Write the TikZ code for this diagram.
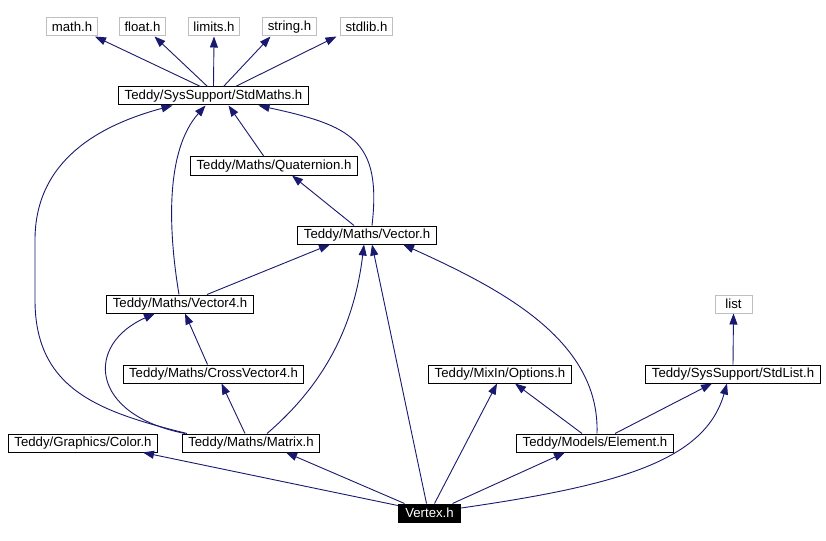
\documentclass[tikz,border=0pt]{standalone}
\usepackage{fontspec}
\setmainfont{Liberation Sans}
\usetikzlibrary{arrows.meta}
\definecolor{edgeblue}{RGB}{25,25,112}
\definecolor{sysgray}{RGB}{191,191,191}

\begin{document}
\begin{tikzpicture}[
    x=1pt, y=-1pt,
    >={Triangle[length=11pt,width=8pt]},
    font=\fontsize{13.2}{15}\selectfont,
    file/.style={
        draw,
        fill=white,
        line width=1pt,
        minimum height=18pt,
        inner xsep=6pt,
        inner ysep=0pt
    },
    sysfile/.style={file, draw=sysgray, inner xsep=5pt},
    mainfile/.style={file, fill=black, text=white, draw=black, inner xsep=7pt},
    dep/.style={draw=edgeblue, line width=0.9pt}
]
\useasboundingbox[fill=white] (0,0) rectangle (826,540);

% en-têtes système
\node[sysfile] (mathh)   at (72,27)    {math.h};
\node[sysfile] (floath)  at (142.5,27) {float.h};
\node[sysfile] (limitsh) at (214,27)   {limits.h};
\node[sysfile] (stringh) at (289.5,27) {string.h};
\node[sysfile] (stdlibh) at (366.5,27) {stdlib.h};
\node[sysfile, minimum width=37pt] (listh) at (733.5,304) {list};

% fichiers du projet
\node[file] (sm)      at (213.5,96) {Teddy/SysSupport/StdMaths.h};
\node[file] (quat)    at (274,166)  {Teddy/Maths/Quaternion.h};
\node[file] (vec)     at (367,235)  {Teddy/Maths/Vector.h};
\node[file] (vec4)    at (180,304)  {Teddy/Maths/Vector4.h};
\node[file] (cross4)  at (213.5,374) {Teddy/Maths/CrossVector4.h};
\node[file] (options) at (500,374)  {Teddy/MixIn/Options.h};
\node[file] (stdlist) at (733,374)  {Teddy/SysSupport/StdList.h};
\node[file] (color)   at (83,443)   {Teddy/Graphics/Color.h};
\node[file] (matrix)  at (251,443)  {Teddy/Maths/Matrix.h};
\node[file] (element) at (595,443)  {Teddy/Models/Element.h};
\node[mainfile] (vertex) at (429.5,513) {Vertex.h};

% StdMaths.h
\draw[->, dep] ([xshift=-13pt]sm.north) -- ([xshift=23pt]mathh.south);
\draw[->, dep] ([xshift=-6pt]sm.north)  -- ([xshift=12pt]floath.south);
\draw[->, dep] (sm.north) -- (limitsh.south);
\draw[->, dep] ([xshift=10pt]sm.north)  -- ([xshift=-19pt]stringh.south);
\draw[->, dep] ([xshift=22pt]sm.north)  -- ([xshift=-30pt]stdlibh.south);

% Quaternion.h, Vector.h
\draw[->, dep] ([xshift=-10pt]quat.north) -- ([xshift=15pt]sm.south);
\draw[->, dep] ([xshift=-13pt]vec.north)  -- ([xshift=18pt]quat.south);
\draw[->, dep] ([xshift=5pt]vec.north) .. controls +(10,-86) and +(92,20) .. ([xshift=45pt]sm.south);

% Vector4.h, CrossVector4.h
\draw[->, dep] ([xshift=-1pt]vec4.north) .. controls +(-11,-66) and +(-40,45) .. ([xshift=-8pt]sm.south);
\draw[->, dep] ([xshift=27pt]vec4.north) -- ([xshift=-37pt]vec.south);
\draw[->, dep] ([xshift=-6pt]cross4.north) -- ([xshift=5pt]vec4.south);

% Matrix.h
\draw[->, dep] ([xshift=-66pt]matrix.north) .. controls +(-96,-19) and +(-70,31) .. ([xshift=-25pt]vec4.south);
\draw[->, dep] ([xshift=-64pt]matrix.north) .. controls (100,412) and (35,390) .. (35,300)
    -- (35,240) .. controls (35,160) and (100,125) .. ([xshift=-41pt]sm.south);
\draw[->, dep] ([xshift=-6pt]matrix.north) -- ([xshift=8pt]cross4.south);
\draw[->, dep] ([xshift=16pt]matrix.north) .. controls +(63,-54) and +(-9,74) .. ([xshift=-3pt]vec.south);

% Element.h, StdList.h
\draw[->, dep] ([xshift=-13pt]element.north) -- ([xshift=15pt]options.south);
\draw[->, dep] ([xshift=2pt]element.north) .. controls +(3,-94) and +(97,44) .. ([xshift=36pt]vec.south);
\draw[->, dep] ([xshift=20pt]element.north) -- ([xshift=-21pt]stdlist.south);
\draw[->, dep] (stdlist.north) -- (listh.south);

% Vertex.h
\draw[->, dep] ([yshift=-2pt]vertex.north west) -- ([xshift=60pt]color.south);
\draw[->, dep] ([xshift=-25pt]vertex.north) -- ([xshift=35pt]matrix.south);
\draw[->, dep] ([xshift=-3pt]vertex.north)  -- ([xshift=5pt]vec.south);
\draw[->, dep] ([xshift=5pt]vertex.north)   -- ([xshift=-3pt]options.south);
\draw[->, dep] ([xshift=23pt]vertex.north)  -- ([xshift=-30pt]element.south);
\draw[->, dep] ([yshift=5pt]vertex.east) .. controls +(159,-23) and +(-22,77) .. ([xshift=-6pt]stdlist.south);

\end{tikzpicture}
\end{document}
